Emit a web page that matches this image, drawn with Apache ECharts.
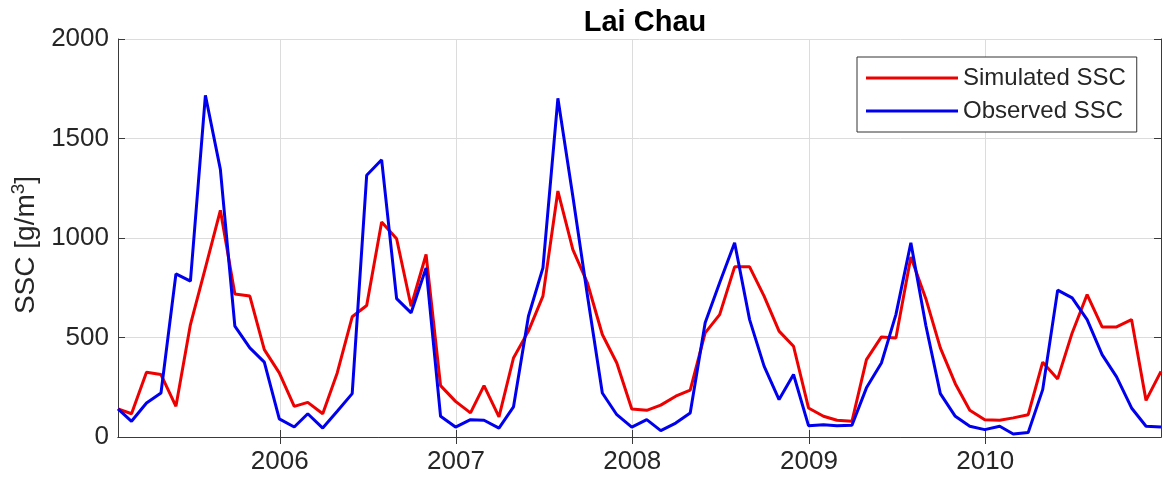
<!DOCTYPE html>
<html>
<head>
<meta charset="utf-8">
<title>Lai Chau SSC</title>
<script src="https://cdn.jsdelivr.net/npm/echarts@6/dist/echarts.min.js"></script>
<style>
  html, body { margin: 0; padding: 0; background: #ffffff; }
  #chart { width: 1164px; height: 482px; }
</style>
</head>
<body>
<div id="chart"></div>
<script>
// Monthly suspended sediment concentration at Lai Chau, 2005–2010 (g/m3)
const years = [2005, 2006, 2007, 2008, 2009, 2010];
const yearTicks = [2006, 2007, 2008, 2009, 2010];

const simulated = [
  141, 117, 325, 314, 154, 565, 850, 1139, 719, 708, 439, 322,
  154, 174, 117, 322, 604, 661, 1080, 996, 657, 917, 258, 179,
  121, 258, 101, 397, 532, 708, 1236, 942, 775, 515, 372, 141,
  134, 160, 205, 235, 523, 615, 855, 855, 708, 532, 456, 146,
  104, 84, 79, 389, 503, 498, 905, 695, 448, 268, 134, 87,
  84, 96, 112, 376, 292, 523, 716, 553, 553, 590, 184, 330
];

const observed = [
  141, 79, 171, 221, 820, 783, 1717, 1345, 557, 448, 376, 91,
  50, 117, 45, 129, 218, 1315, 1393, 695, 624, 850, 104, 50,
  87, 84, 45, 151, 607, 850, 1702, 1209, 714, 221, 112, 50,
  87, 32, 70, 121, 574, 775, 976, 590, 356, 188, 314, 57,
  62, 57, 59, 247, 372, 615, 976, 560, 218, 104, 54, 37,
  54, 15, 23, 238, 738, 699, 590, 414, 302, 146, 54, 50
];

// one sample per month, stamped at the last day of the month
const monthEnds = [];
years.forEach(function (y) {
  for (let m = 0; m < 12; m++) monthEnds.push(Date.UTC(y, m + 1, 0));
});
const yearStarts = yearTicks.map(function (y) { return Date.UTC(y, 0, 1); });

const pairs = function (vals) {
  return vals.map(function (v, i) { return [monthEnds[i], v]; });
};

const FONT = '"Liberation Sans", Arial, Helvetica, sans-serif';
const INK = '#262626';
const AXIS = '#3a3a3a';
const GRID = '#dcdcdc';
const RED = '#ee0000';
const BLUE = '#0000ee';

const chart = echarts.init(document.getElementById('chart'), null, { renderer: 'canvas' });

chart.setOption({
  backgroundColor: '#ffffff',
  animation: false,
  textStyle: { fontFamily: FONT },
  title: {
    text: 'Lai Chau',
    left: 640,
    top: 3,
    textAlign: 'center',
    textStyle: { fontFamily: FONT, fontSize: 29, fontWeight: 'bold', color: '#000000' }
  },
  legend: {
    orient: 'vertical',
    left: 857,
    top: 57,
    padding: [9, 11, 9, 9],
    itemGap: 9,
    itemWidth: 92,
    itemHeight: 3,
    icon: 'rect',
    backgroundColor: '#ffffff',
    borderColor: '#333333',
    borderWidth: 1,
    borderRadius: 0,
    textStyle: { fontFamily: FONT, fontSize: 24, color: INK, lineHeight: 23 },
    data: ['Simulated SSC', 'Observed SSC']
  },
  grid: { left: 118, right: 3, top: 39, bottom: 45, containLabel: false },
  xAxis: [
    {
      type: 'value',
      min: monthEnds[0],
      max: monthEnds[monthEnds.length - 1],
      axisLine: { show: true, lineStyle: { color: AXIS, width: 1 } },
      axisTick: { show: true, inside: true, length: 7, customValues: yearStarts, lineStyle: { color: AXIS } },
      axisLabel: {
        show: true,
        customValues: yearStarts,
        margin: 12,
        fontFamily: FONT,
        fontSize: 26,
        color: INK,
        formatter: function (v) { return String(new Date(v).getUTCFullYear()); }
      },
      splitLine: { show: true, lineStyle: { color: GRID, width: 1 } }
    },
    {
      type: 'value',
      position: 'top',
      min: monthEnds[0],
      max: monthEnds[monthEnds.length - 1],
      axisLine: { show: true, lineStyle: { color: AXIS, width: 1 } },
      axisTick: { show: true, inside: true, length: 7, customValues: yearStarts, lineStyle: { color: AXIS } },
      axisLabel: { show: false },
      splitLine: { show: false }
    }
  ],
  yAxis: [
    {
      type: 'value',
      min: 0,
      max: 2000,
      interval: 500,
      name: 'SSC [g/m{sup|3}]',
      nameLocation: 'middle',
      nameGap: 70,
      nameTextStyle: {
        fontFamily: FONT,
        fontSize: 28,
        color: INK,
        padding: [0, 14, 0, 0],
        rich: { sup: { fontFamily: FONT, fontSize: 19, color: INK, verticalAlign: 'top', padding: [0, 0, 14, 0] } }
      },
      axisLine: { show: true, lineStyle: { color: AXIS, width: 1 } },
      axisTick: { show: true, inside: true, length: 7, lineStyle: { color: AXIS } },
      axisLabel: {
        margin: 9,
        fontFamily: FONT,
        fontSize: 26,
        color: INK,
        formatter: function (v) { return String(v); }
      },
      splitLine: { show: true, lineStyle: { color: GRID, width: 1 } }
    },
    {
      type: 'value',
      position: 'right',
      min: 0,
      max: 2000,
      interval: 500,
      axisLine: { show: true, lineStyle: { color: AXIS, width: 1 } },
      axisTick: { show: true, inside: true, length: 7, lineStyle: { color: AXIS } },
      axisLabel: { show: false },
      splitLine: { show: false }
    }
  ],
  series: [
    {
      name: 'Simulated SSC',
      type: 'line',
      data: pairs(simulated),
      showSymbol: false,
      symbol: 'none',
      lineStyle: { color: RED, width: 3 },
      itemStyle: { color: RED },
      z: 2
    },
    {
      name: 'Observed SSC',
      type: 'line',
      data: pairs(observed),
      showSymbol: false,
      symbol: 'none',
      lineStyle: { color: BLUE, width: 3 },
      itemStyle: { color: BLUE },
      z: 3
    }
  ]
});
</script>
</body>
</html>
